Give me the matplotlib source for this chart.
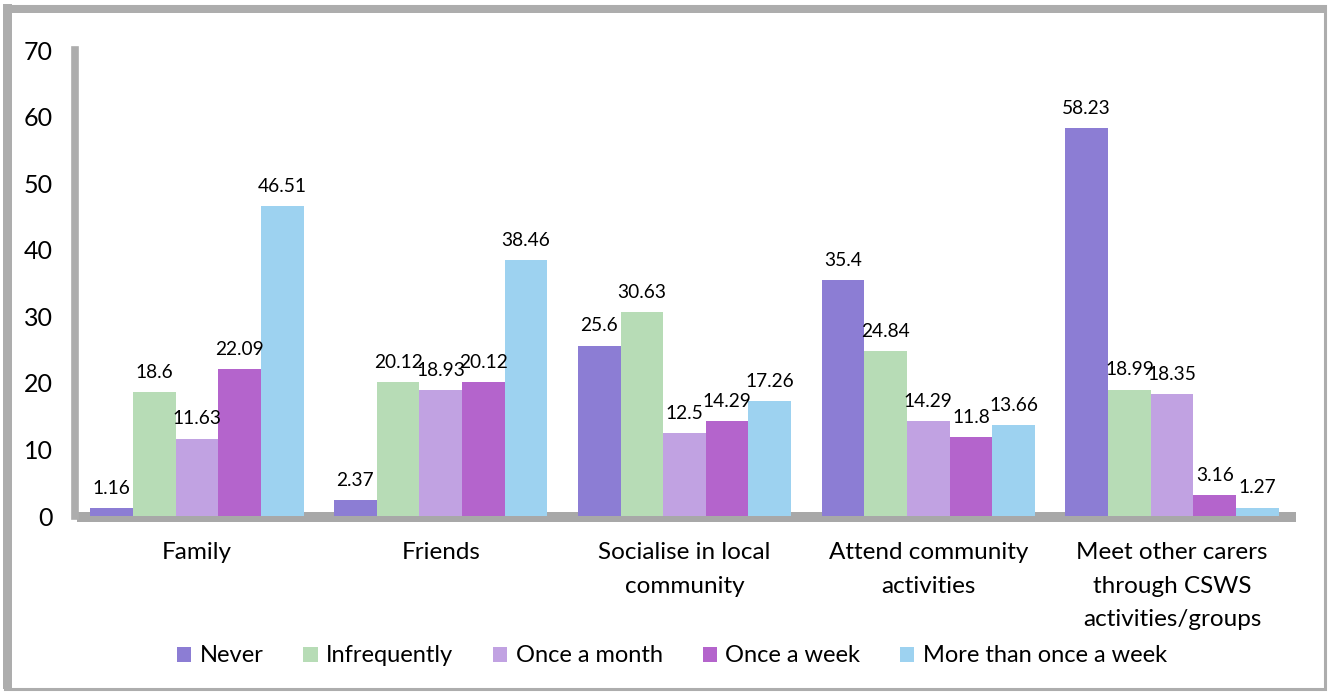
import matplotlib
matplotlib.use('Agg')
import matplotlib.pyplot as plt
from matplotlib.patches import Rectangle
import numpy as np

categories = ['Family', 'Friends', 'Socialise in local\ncommunity',
              'Attend community\nactivities',
              'Meet other carers\nthrough CSWS\nactivities/groups']
series = ['Never', 'Infrequently', 'Once a month', 'Once a week',
          'More than once a week']
never = [1.16, 2.37, 25.6, 35.4, 58.23]
infrequently = [18.6, 20.12, 30.63, 24.84, 18.99]
once_month = [11.63, 18.93, 12.5, 14.29, 18.35]
once_week = [22.09, 20.12, 14.29, 11.8, 3.16]
more_than_week = [46.51, 38.46, 17.26, 13.66, 1.27]
colors = ['#8C7DD4', '#B7DCB6', '#C1A2E2', '#B464CC', '#9DD2F0']

plt.rcParams['font.family'] = ['Lato', 'DejaVu Sans']

W, H = 1328, 693
fig = plt.figure(figsize=(W / 100, H / 100), dpi=100)
ax = fig.add_axes([75 / W, 1 - 516 / H, (1294 - 75) / W, 466 / H])

x = np.arange(len(categories))
width = 0.175
values = [never, infrequently, once_month, once_week, more_than_week]

# floor slab under the bars
floor = Rectangle((-0.49, -0.9), 5.0, 1.5, facecolor='#A8A8A8',
                  edgecolor='none', clip_on=False, zorder=1)
ax.add_patch(floor)

for i, (name, vals) in enumerate(zip(series, values)):
    pos = x + (i - 2) * width
    ax.bar(pos, vals, width, color=colors[i], label=name, zorder=3,
           linewidth=0)
    for p, v in zip(pos, vals):
        ax.annotate('{:g}'.format(v), (p, v), xytext=(0, 8),
                    textcoords='offset points', ha='center', va='bottom',
                    fontsize=13.8, color='black', zorder=4)

ax.set_xlim(-0.5, 4.5)
ax.set_ylim(0, 70)
ax.set_yticks(range(0, 71, 10))
ax.set_xticks(x)
ax.set_xticklabels(categories, fontsize=17.5, linespacing=1.72)
ax.tick_params(axis='y', length=0, pad=16, labelsize=18)
ax.tick_params(axis='x', length=0, pad=19)
for s in ['top', 'right', 'bottom']:
    ax.spines[s].set_visible(False)
ax.spines['left'].set_color('#ADADAD')
ax.spines['left'].set_linewidth(5.5)

fig.legend(loc='center', bbox_to_anchor=(0.506, 1 - 656 / H), ncol=5,
           frameon=False, fontsize=17, handlelength=0.6, handleheight=0.6,
           handletextpad=0.35, columnspacing=1.7)

# outer chart border
fig.patches.append(Rectangle((5 / W, 4 / H), 1320 / W, 683 / H,
                             transform=fig.transFigure, fill=False,
                             edgecolor='#ADADAD', linewidth=2.2))
fig.patches.append(Rectangle((3 / W, 4 / H), 9 / W, 685 / H,
                             transform=fig.transFigure, facecolor='#ADADAD',
                             edgecolor='none'))
fig.patches.append(Rectangle((3 / W, 680 / H), 1322 / W, 8 / H,
                             transform=fig.transFigure, facecolor='#ADADAD',
                             edgecolor='none'))

plt.savefig('out.png', dpi=100)
plt.close()
